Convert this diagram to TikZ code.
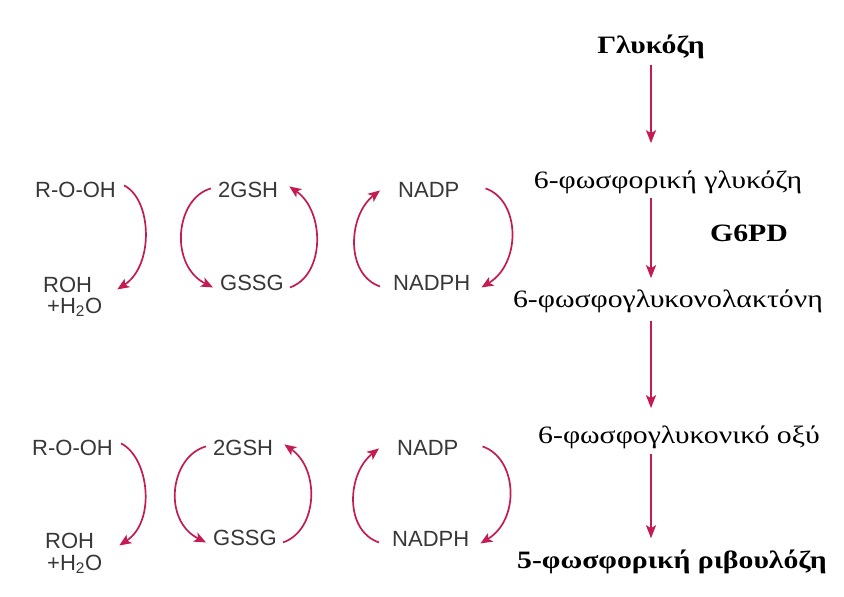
\documentclass[tikz,border=0pt]{standalone}
\usepackage{fontspec}
\setmainfont[FakeStretch=1.19]{Liberation Serif}
\newfontfamily\labfont{Liberation Sans}
\usetikzlibrary{arrows.meta}
\definecolor{arrowred}{RGB}{196,28,82}
\definecolor{labgray}{RGB}{55,55,55}
\tikzset{
  flow/.style={draw=arrowred, line width=1.9pt, -{Stealth[length=13pt,width=10pt,inset=3pt]}},
  cyc/.style={draw=arrowred, line width=1.7pt, -{Stealth[length=12pt,width=10pt,inset=3pt]}},
  lab/.style={font=\labfont\fontsize{22}{24}\selectfont, text=labgray, inner sep=0pt, anchor=base west},
  met/.style={font=\fontsize{25}{28}\selectfont, inner sep=0pt, anchor=base},
  metb/.style={met, font=\fontsize{25}{28}\selectfont\bfseries},
}
\begin{document}
\begin{tikzpicture}[x=1pt,y=-1pt]
  \useasboundingbox[fill=white] (0,0) rectangle (844,597);

  % pentose phosphate pathway (right column)
  \node[metb] (glc)  at (651,53)  {Γλυκόζη};
  \node[met]  (g6p)  at (668,188) {6-φωσφορική γλυκόζη};
  \node[metb] (g6pd) at (749,241) {G6PD};
  \node[met]  (lac)  at (668,307) {6-φωσφογλυκονολακτόνη};
  \node[met]  (gla)  at (679,443) {6-φωσφογλυκονικό οξύ};
  \node[metb] (ru5p) at (672,568) {5-φωσφορική ριβουλόζη};

  \draw[flow] ([yshift=-6pt]glc.south) -- ([yshift=27pt]g6p.north -| glc.south);
  \draw[flow] ([yshift=-4pt]g6p.south -| glc.south) -- ([yshift=11pt]lac.north -| glc.south);
  \draw[flow] ([yshift=-8pt]lac.south -| glc.south) -- ([yshift=17pt]gla.north -| glc.south);
  \draw[flow] ([yshift=-5pt]gla.south -| glc.south) -- ([yshift=11pt]ru5p.north -| glc.south);

  % glutathione / NADPH cycles, upper set
  \node[lab] (roo1)   at (35,197)  {R-O-OH};
  \node[lab] (roh1)   at (43,292)  {ROH};
  \node[lab] (h2o1)   at (47,313)  {+H\textsubscript{2}O};
  \node[lab] (gsh1)   at (218,197) {2GSH};
  \node[lab] (gssg1)  at (220,290) {GSSG};
  \node[lab] (nadp1)  at (398,197) {NADP};
  \node[lab] (nadph1) at (393,290) {NADPH};

  \draw[cyc] ([shift={(8,-4)}]roo1.east) .. controls +(28,14) and +(37,-24) .. ([shift={(25,5)}]roh1.east);
  \draw[cyc] ([shift={(-7,-1)}]gsh1.west) .. controls +(-36,10) and +(-44,-22) .. ([shift={(-7,5)}]gssg1.west);
  \draw[cyc] ([shift={(6,5)}]gssg1.east) .. controls +(35,-12) and +(36,25) .. ([shift={(11,-3)}]gsh1.east);
  \draw[cyc] ([shift={(-13,4)}]nadph1.west) .. controls +(-35,-12) and +(-32,25) .. ([shift={(-18,1)}]nadp1.west);
  \draw[cyc] ([shift={(26,-1)}]nadp1.east) .. controls +(35,12) and +(40,-24) .. ([shift={(11,5)}]nadph1.east);

  % glutathione / NADPH cycles, lower set
  \node[lab] (roo2)   at (32,455)  {R-O-OH};
  \node[lab] (roh2)   at (45,548)  {ROH};
  \node[lab] (h2o2)   at (47,570)  {+H\textsubscript{2}O};
  \node[lab] (gsh2)   at (213,455) {2GSH};
  \node[lab] (gssg2)  at (213,545) {GSSG};
  \node[lab] (nadp2)  at (397,455) {NADP};
  \node[lab] (nadph2) at (392,546) {NADPH};

  \draw[cyc] ([shift={(8,-4)}]roo2.east) .. controls +(28,14) and +(37,-24) .. ([shift={(25,5)}]roh2.east);
  \draw[cyc] ([shift={(-7,-1)}]gsh2.west) .. controls +(-36,10) and +(-44,-22) .. ([shift={(-7,5)}]gssg2.west);
  \draw[cyc] ([shift={(6,5)}]gssg2.east) .. controls +(35,-12) and +(36,25) .. ([shift={(11,-3)}]gsh2.east);
  \draw[cyc] ([shift={(-13,4)}]nadph2.west) .. controls +(-35,-12) and +(-32,25) .. ([shift={(-18,1)}]nadp2.west);
  \draw[cyc] ([shift={(24,-1)}]nadp2.east) .. controls +(35,12) and +(40,-24) .. ([shift={(11,5)}]nadph2.east);
\end{tikzpicture}
\end{document}
